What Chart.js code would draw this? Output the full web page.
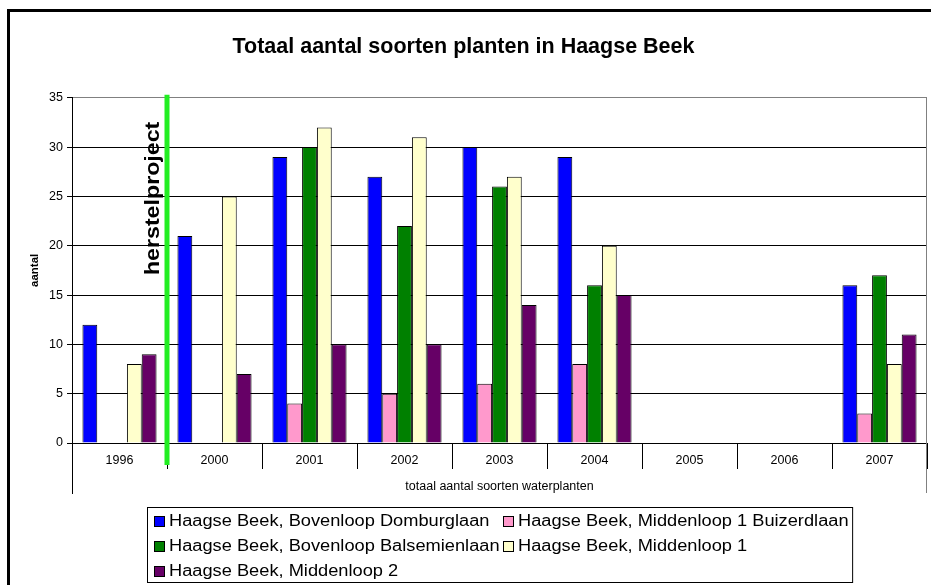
<!DOCTYPE html>
<html>
<head>
<meta charset="utf-8">
<script src="https://cdn.jsdelivr.net/npm/chart.js@4/dist/chart.umd.min.js"></script>
<style>
  html, body { margin: 0; padding: 0; background: #fff; }
  #wrap { width: 931px; height: 585px; }
</style>
</head>
<body>
<div id="wrap"><canvas id="soortenChart" width="931" height="585"></canvas></div>
<script>
  const jaren = ['1996', '2000', '2001', '2002', '2003', '2004', '2005', '2006', '2007'];

  const domburglaan   = [12, 21, 29, 27, 30, 29, null, null, 16];
  const buizerdlaan   = [null, null, 4, 5, 6, 8, null, null, 3];
  const balsemienlaan = [null, null, 30, 22, 26, 16, null, null, 17];
  const middenloop1   = [8, 25, 32, 31, 27, 20, null, null, 8];
  const middenloop2   = [9, 7, 10, 10, 14, 15, null, null, 11];

  const reeksNamen = [
    'Haagse Beek, Bovenloop Domburglaan',
    'Haagse Beek, Middenloop 1 Buizerdlaan',
    'Haagse Beek, Bovenloop Balsemienlaan',
    'Haagse Beek, Middenloop 1',
    'Haagse Beek, Middenloop 2'
  ];
  const kleuren = ['#0000ff', '#ff99cc', '#008000', '#ffffcc', '#660066'];

  const yMax = 35;
  const yStap = 5;

  const FONT = 'Arial, "Liberation Sans", sans-serif';

  // frame, herstel line, legend box with two columns
  const extras = {
    id: 'extras',
    afterDraw(chart) {
      const { ctx, chartArea: ca, scales: { x, y } } = chart;
      ctx.save();

      // outer frame
      ctx.strokeStyle = '#000';
      ctx.lineWidth = 3;
      ctx.strokeRect(8.5, 10.5, 960, 620);

      // end lines of the category axis, right border of plot
      ctx.lineWidth = 1;
      ctx.beginPath();
      ctx.moveTo(Math.round(ca.left) + 0.5, ca.bottom);
      ctx.lineTo(Math.round(ca.left) + 0.5, ca.bottom + 51);
      ctx.stroke();
      ctx.strokeStyle = '#808080';
      ctx.beginPath();
      ctx.moveTo(Math.round(ca.right) - 0.5, ca.top);
      ctx.lineTo(Math.round(ca.right) - 0.5, ca.bottom + 50);
      ctx.stroke();

      // herstelproject marker between 1996 and 2000
      const hx = (x.getPixelForValue(0) + x.getPixelForValue(1)) / 2;
      ctx.strokeStyle = '#22ee22';
      ctx.lineWidth = 5;
      ctx.beginPath();
      ctx.moveTo(hx, y.getPixelForValue(yMax) - 3);
      ctx.lineTo(hx, ca.bottom + 22);
      ctx.stroke();

      ctx.save();
      ctx.translate(hx - 8, y.getPixelForValue(24.8));
      ctx.rotate(-Math.PI / 2);
      ctx.scale(1.16, 1);
      ctx.fillStyle = '#000';
      ctx.font = 'bold 20px ' + FONT;
      ctx.textAlign = 'center';
      ctx.textBaseline = 'alphabetic';
      ctx.fillText('herstelproject', 0, 0);
      ctx.restore();

      // legend
      const rek = 1.14;
      ctx.font = '16px ' + FONT;
      ctx.textBaseline = 'middle';
      ctx.textAlign = 'left';
      const sets = chart.data.datasets;
      const col1 = [0, 2, 4], col2 = [1, 3];
      const w1 = rek * Math.max(...col1.map(i => ctx.measureText(sets[i].label).width));
      const w2 = rek * Math.max(...col2.map(i => ctx.measureText(sets[i].label).width));
      const sq = 11, gap = 4, pad = 6;
      const colW1 = sq + gap + w1 + 4;
      const boxW = pad + colW1 + sq + gap + w2 + 4;
      const boxH = 75;
      const boxL = Math.round((ca.left + ca.right) / 2 - boxW / 2) + 0.5;
      const boxT = 507.5;
      ctx.strokeStyle = '#000';
      ctx.lineWidth = 1;
      ctx.strokeRect(boxL, boxT, boxW, boxH);

      sets.forEach((ds, i) => {
        const col = i % 2, row = Math.floor(i / 2);
        const sx = Math.round(boxL + pad + col * colW1);
        const cy = boxT + 14 + row * 25;
        const sy = Math.round(cy - sq / 2);
        ctx.fillStyle = ds.backgroundColor;
        ctx.fillRect(sx, sy, sq, sq);
        ctx.strokeStyle = '#000';
        ctx.strokeRect(sx + 0.5, sy + 0.5, sq - 1, sq - 1);
        ctx.save();
        ctx.translate(sx + sq + gap, cy);
        ctx.scale(rek, 1);
        ctx.fillStyle = '#000';
        ctx.fillText(ds.label, 0, 0);
        ctx.restore();
      });

      ctx.restore();
    }
  };

  const reeksen = [domburglaan, buizerdlaan, balsemienlaan, middenloop1, middenloop2];

  new Chart(document.getElementById('soortenChart'), {
    type: 'bar',
    data: {
      labels: jaren,
      datasets: reeksen.map((data, i) => ({
        label: reeksNamen[i],
        data: data,
        backgroundColor: kleuren[i],
        borderColor: '#000',
        borderWidth: 1,
        categoryPercentage: 0.78,
        barPercentage: 1.0
      }))
    },
    options: {
      responsive: false,
      animation: false,
      layout: { padding: { top: 10, left: 0, right: 4, bottom: 90 } },
      plugins: {
        legend: { display: false },
        tooltip: { enabled: false },
        title: {
          display: true,
          text: 'Totaal aantal soorten planten in Haagse Beek',
          color: '#000',
          font: { family: FONT, size: 21.5, weight: 'bold' },
          padding: { top: 24, bottom: 38 }
        }
      },
      scales: {
        x: {
          offset: true,
          border: { color: '#000', width: 1 },
          grid: {
            offset: true,
            drawOnChartArea: false,
            drawTicks: true,
            tickLength: 26,
            color: '#000'
          },
          ticks: {
            color: '#000',
            font: { family: FONT, size: 12.5 },
            padding: -15.5,
            maxRotation: 0
          },
          title: {
            display: true,
            text: 'totaal aantal soorten waterplanten',
            color: '#000',
            font: { family: FONT, size: 12.5 },
            padding: { top: 0, bottom: 1 }
          },
          afterFit(scale) { scale.height = 52; }
        },
        y: {
          min: 0,
          max: yMax,
          border: { color: '#000', width: 1 },
          grid: {
            color: c => (c.tick && c.tick.value === yMax ? '#808080' : '#000'),
            tickColor: '#000',
            tickLength: 5
          },
          ticks: {
            stepSize: yStap,
            color: '#000',
            font: { family: FONT, size: 12.5 },
            padding: 4
          },
          title: {
            display: true,
            text: 'aantal',
            color: '#000',
            font: { family: FONT, size: 11.5, weight: 'bold' },
            padding: { top: 28, bottom: 0 }
          },
          afterFit(scale) { scale.width = 72; }
        }
      }
    },
    plugins: [extras]
  });
</script>
</body>
</html>
